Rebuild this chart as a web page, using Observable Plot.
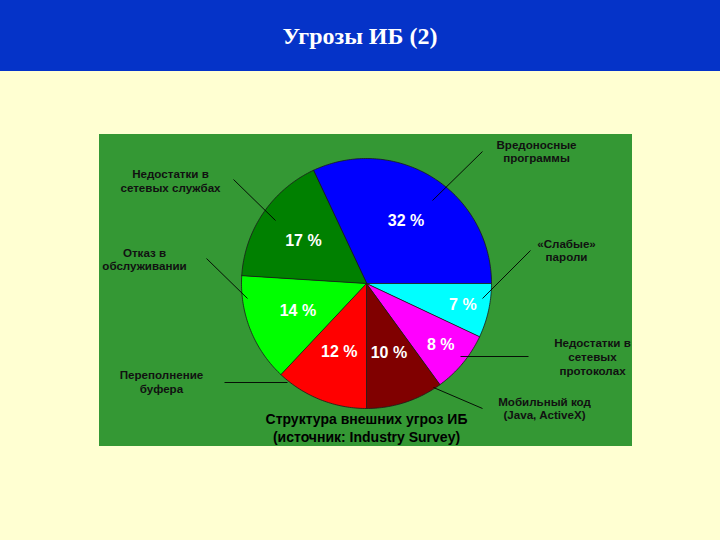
<!DOCTYPE html>
<html>
<head>
<meta charset="utf-8">
<script src="https://cdn.jsdelivr.net/npm/d3@7"></script>
<script src="https://cdn.jsdelivr.net/npm/@observablehq/plot@0.6"></script>
<style>
  html, body { margin: 0; padding: 0; }
  body { width: 720px; height: 540px; background: #FFFFD2; position: relative; overflow: hidden; }
  #band { position: absolute; left: 0; top: 0; width: 720px; height: 71px; background: #0533C8; }
  #title { position: absolute; left: 0; top: 23px; width: 720px; text-align: center;
           font-family: "Liberation Serif", "DejaVu Serif", serif; font-weight: bold; font-size: 24px;
           line-height: 26px; color: #fff; }
  #chart { position: absolute; left: 99px; top: 134px; }
  #chart svg { background: #349834; display: block; }
</style>
</head>
<body>
<div id="band"></div>
<div id="title"></div>
<div id="chart"></div>
<script>
// ---- data ----
const title = "Угрозы ИБ (2)";
const categories = [
  "Вредоносные программы",
  "«Слабые» пароли",
  "Недостатки в сетевых протоколах",
  "Мобильный код (Java, ActiveX)",
  "Переполнение буфера",
  "Отказ в обслуживании",
  "Недостатки в сетевых службах"
];
const shares = [32, 7, 8, 10, 12, 14, 17];
const categoryLabels = [
  "Вредоносные\nпрограммы",
  "«Слабые»\nпароли",
  "Недостатки в\nсетевых\nпротоколах",
  "Мобильный код\n(Java, ActiveX)",
  "Переполнение\nбуфера",
  "Отказ в\nобслуживании",
  "Недостатки в\nсетевых службах"
];
const captionText = "Структура внешних угроз ИБ\n(источник: Industry Survey)";

// ---- styles / layout (kept separate from the data) ----
const sliceColors = ["#0000FF", "#00FFFF", "#FF00FF", "#800000", "#FF0000", "#00FF00", "#008000"];
const radius = 125;
const startFrac = -0.07; // pie starts at -25.2 deg (clockwise from 12 o'clock)
const pctRadius = [0.59, 0.79, 0.77, 0.58, 0.59, 0.59, 0.61];
// label block centres, relative to pie centre (px, y down)
const labelPos = [[170, -132.5], [200, -33.5], [226, 73], [178, 124.5], [-205, 98], [-222, -24.5], [-196, -103]];
// leader lines [x1, y1, x2, y2]
const leaderPos = [
  [116, -132, 66, -83], [164, -33, 116, 15], [94, 73, 162, 73], [67, 104, 116, 125],
  [-142, 99, -79, 99], [-160, -25, -119, 15], [-133, -104, -91, -63]
];
const captionPos = [0, 144];

document.getElementById("title").textContent = title;

const pie = d3.pie().sort(null)
  .startAngle(startFrac * 2 * Math.PI)
  .endAngle((1 + startFrac) * 2 * Math.PI);
const arcs = pie(shares);

const polyPts = [];
arcs.forEach((a, i) => {
  polyPts.push({cat: categories[i], x: 0, y: 0});
  const n = Math.max(2, Math.ceil((a.endAngle - a.startAngle) / (Math.PI / 180)));
  for (let k = 0; k <= n; k++) {
    const t = a.startAngle + (a.endAngle - a.startAngle) * k / n;
    polyPts.push({cat: categories[i], x: radius * Math.sin(t), y: -radius * Math.cos(t)});
  }
});

const pctPts = arcs.map((a, i) => {
  const m = (a.startAngle + a.endAngle) / 2;
  const r = radius * pctRadius[i];
  return {text: shares[i] + " %", x: r * Math.sin(m), y: -r * Math.cos(m)};
});

const labelPts = categoryLabels.map((t, i) => ({text: t, x: labelPos[i][0], y: labelPos[i][1]}));
const leaders = leaderPos.map(p => ({x1: p[0], y1: p[1], x2: p[2], y2: p[3]}));

const W = 533, H = 312, cx = 267, cy = 149;

const chart = Plot.plot({
  width: W, height: H,
  margin: 0,
  style: {background: "#349834", overflow: "visible"},
  x: {domain: [-cx, W - cx], range: [0, W], axis: null},
  y: {domain: [-cy, H - cy], range: [0, H], axis: null},
  color: {domain: categories, range: sliceColors},
  marks: [
    Plot.line(polyPts, {x: "x", y: "y", z: "cat", fill: "cat", stroke: "#1a1a1a", strokeWidth: 0.8, curve: "linear-closed"}),
    Plot.link(leaders, {x1: "x1", y1: "y1", x2: "x2", y2: "y2", stroke: "#000", strokeWidth: 0.9}),
    Plot.text(pctPts, {x: "x", y: "y", text: "text", fill: "#fff", fontSize: 16, fontWeight: "bold",
      fontFamily: "Liberation Sans, Arial, sans-serif"}),
    Plot.text(labelPts, {x: "x", y: "y", text: "text", fill: "#111", fontSize: 11.6, fontWeight: "bold",
      lineHeight: 1.2, fontFamily: "Liberation Sans, Arial, sans-serif"}),
    Plot.text([captionText], {x: () => captionPos[0], y: () => captionPos[1], text: d => d, fill: "#000",
      fontSize: 14, fontWeight: "bold", lineHeight: 1.25, fontFamily: "Liberation Sans, Arial, sans-serif"})
  ]
});
document.getElementById("chart").appendChild(chart);
</script>
</body>
</html>
